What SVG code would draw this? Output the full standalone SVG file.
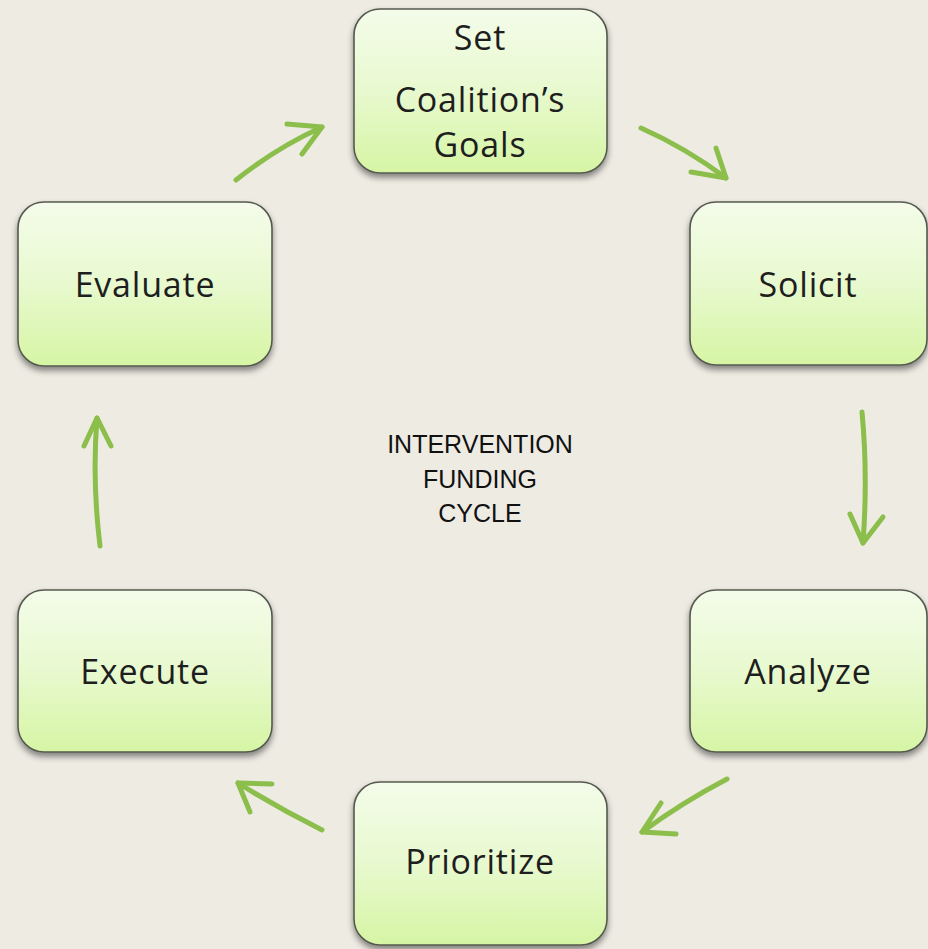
<svg xmlns="http://www.w3.org/2000/svg" width="928" height="949" viewBox="0 0 928 949">
  <defs>
    <linearGradient id="boxFill" x1="0" y1="0" x2="0" y2="1">
      <stop offset="0" stop-color="#F4FCEA"/>
      <stop offset="0.5" stop-color="#E8F9CF"/>
      <stop offset="1" stop-color="#D6F5A4"/>
    </linearGradient>
    <filter id="shadow" x="-10%" y="-10%" width="120%" height="130%">
      <feDropShadow dx="0" dy="4" stdDeviation="3" flood-color="#000" flood-opacity="0.45"/>
    </filter>
  </defs>
  <style>
    .box { fill: url(#boxFill); stroke: #55594F; stroke-width: 1.6; filter: url(#shadow); }
    .label { font-family: "Open Sans", "Noto Sans", "DejaVu Sans", sans-serif; font-size: 34px; fill: #1E1E1E; text-anchor: middle; letter-spacing: 0.8px; }
    .center { font-family: "Liberation Sans", Arial, sans-serif; font-size: 25px; fill: #111; text-anchor: middle; }
    .arrow { fill: none; stroke: #8BBE4B; stroke-width: 5; stroke-linecap: round; stroke-linejoin: round; }
  </style>

  <rect width="928" height="949" fill="#EEEBE3"/>

  <!-- connectors -->
  <g id="connectors">
    <!-- Evaluate to Set Coalition's Goals -->
    <path class="arrow" d="M236 180 Q276 148 322 127"/>
    <path class="arrow" d="M287 124 L322 127 L302 154"/>
    <!-- Set Coalition's Goals to Solicit -->
    <path class="arrow" d="M641 128 Q686 148 726 178"/>
    <path class="arrow" d="M691 172 L726 178 L716 148"/>
    <!-- Solicit to Analyze -->
    <path class="arrow" d="M862 412 Q868 475 863 543"/>
    <path class="arrow" d="M850 514 L863 543 L883 517"/>
    <!-- Analyze to Prioritize -->
    <path class="arrow" d="M727 779 Q683 802 642 832"/>
    <path class="arrow" d="M661 803 L642 832 L676 834"/>
    <!-- Prioritize to Execute -->
    <path class="arrow" d="M322 830 Q278 808 238 783"/>
    <path class="arrow" d="M272 784 L238 783 L250 812"/>
    <!-- Execute to Evaluate -->
    <path class="arrow" d="M100 546 Q92 480 97 418"/>
    <path class="arrow" d="M84 446 L97 418 L111 446"/>
  </g>

  <g id="node-goals">
    <rect class="box" x="354" y="9" width="253" height="164" rx="26"/>
    <text class="label" x="480" y="50">Set</text>
    <text class="label" x="480" y="112">Coalition’s</text>
    <text class="label" x="480" y="157">Goals</text>
  </g>

  <g id="node-solicit">
    <rect class="box" x="690" y="202" width="237" height="163" rx="26"/>
    <text class="label" x="808" y="297">Solicit</text>
  </g>

  <g id="node-analyze">
    <rect class="box" x="690" y="590" width="237" height="162" rx="26"/>
    <text class="label" x="808" y="684">Analyze</text>
  </g>

  <g id="node-prioritize">
    <rect class="box" x="354" y="782" width="253" height="163" rx="26"/>
    <text class="label" x="480" y="874">Prioritize</text>
  </g>

  <g id="node-execute">
    <rect class="box" x="18" y="590" width="254" height="162" rx="26"/>
    <text class="label" x="145" y="684">Execute</text>
  </g>

  <g id="node-evaluate">
    <rect class="box" x="18" y="202" width="254" height="164" rx="26"/>
    <text class="label" x="145" y="297">Evaluate</text>
  </g>

  <g id="title">
    <text class="center" x="480" y="453">INTERVENTION</text>
    <text class="center" x="480" y="488">FUNDING</text>
    <text class="center" x="480" y="522">CYCLE</text>
  </g>
</svg>
